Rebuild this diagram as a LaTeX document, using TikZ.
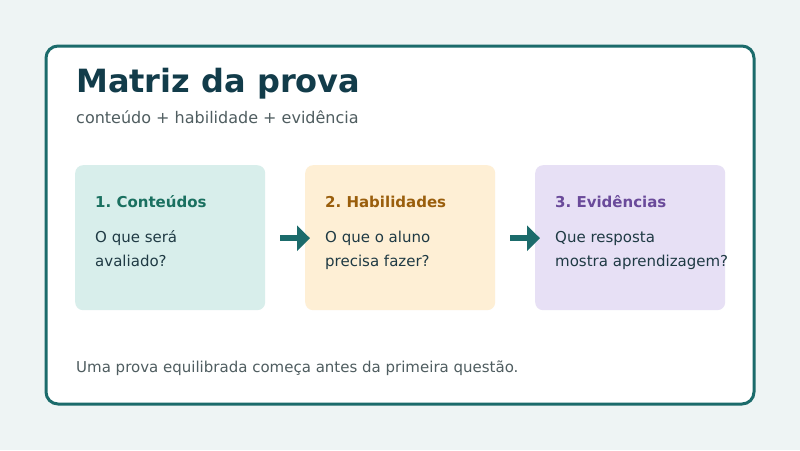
\documentclass[tikz,border=0pt]{standalone}
\usepackage{fontspec}
\setmainfont{DejaVu Sans}
\usetikzlibrary{arrows.meta}
\frenchspacing
\definecolor{bgc}{HTML}{EEF4F4}
\definecolor{teal}{HTML}{1B6B6B}
\definecolor{titlec}{HTML}{123C4A}
\definecolor{subc}{HTML}{4F5D60}
\definecolor{bodyc}{HTML}{1F3A44}
\definecolor{f1}{HTML}{D8EEEB}
\definecolor{f2}{HTML}{FEEFD5}
\definecolor{f3}{HTML}{E7E0F5}
\definecolor{t1}{HTML}{1A7060}
\definecolor{t2}{HTML}{9A5E0C}
\definecolor{t3}{HTML}{6A4A9A}
\tikzset{
  card/.style={draw=teal, line width=3pt, fill=white, rounded corners=12pt},
  stepbox/.style={rounded corners=8pt, minimum width=190pt, minimum height=145pt, inner sep=0pt, draw=none},
  boxtitle/.style={anchor=base west, font=\fontsize{15}{18}\selectfont\bfseries, inner sep=0pt},
  boxbody/.style={anchor=base west, font=\fontsize{15}{18}\selectfont, text=bodyc, inner sep=0pt},
  flow/.style={draw=teal, line width=6pt, -{Triangle[length=13pt,width=25pt]}}
}
\begin{document}
\begin{tikzpicture}[x=1pt,y=-1pt]
\useasboundingbox[fill=bgc] (0,0) rectangle (800,450);
\draw[card] (46,46) rectangle (754,404);
\node[anchor=base west, inner sep=0pt, text=titlec, font=\fontsize{32}{38}\selectfont\bfseries] (title) at (76,92) {Matriz da prova};
\node[anchor=base west, inner sep=0pt, text=subc, font=\fontsize{16}{19}\selectfont] (sub) at (76,123) {conteúdo + habilidade + evidência};

\node[stepbox, fill=f1, anchor=north west] (b1) at (75,165) {};
\node[stepbox, fill=f2, anchor=north west] (b2) at (305,165) {};
\node[stepbox, fill=f3, anchor=north west] (b3) at (535,165) {};

\node[boxtitle, text=t1] (h1) at (95,207) {1. Conteúdos};
\node[boxtitle, text=t2] (h2) at (325,207) {2. Habilidades};
\node[boxtitle, text=t3] (h3) at (555,207) {3. Evidências};

\node[boxbody] (p1a) at (95,242) {O que será};
\node[boxbody] (p1b) at (95,266) {avaliado?};
\node[boxbody] (p2a) at (325,242) {O que o aluno};
\node[boxbody] (p2b) at (325,266) {precisa fazer?};
\node[boxbody] (p3a) at (555,242) {Que resposta};
\node[boxbody] (p3b) at (555,266) {mostra aprendizagem?};

\draw[flow] ([xshift=15pt,yshift=-0.5pt]b1.east) -- ([xshift=5pt,yshift=-0.5pt]b2.west);
\draw[flow] ([xshift=15pt,yshift=-0.5pt]b2.east) -- ([xshift=5pt,yshift=-0.5pt]b3.west);

\node[anchor=base west, inner sep=0pt, text=subc, font=\fontsize{15}{18}\selectfont] (foot) at (76,372) {Uma prova equilibrada começa antes da primeira questão.};
\end{tikzpicture}
\end{document}
